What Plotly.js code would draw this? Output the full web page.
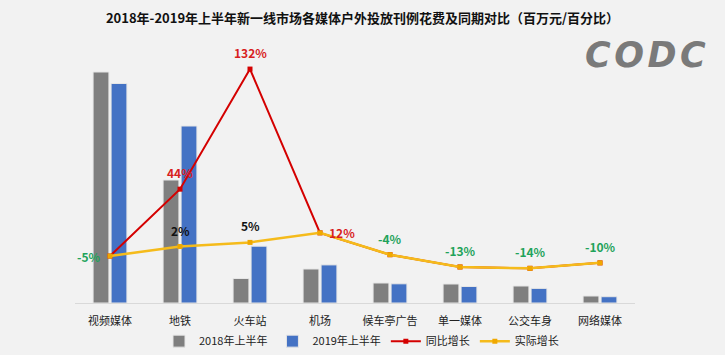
<!DOCTYPE html>
<html>
<head>
<meta charset="utf-8">
<script src="https://cdn.plot.ly/plotly-3.0.1.min.js"></script>
<style>
  html, body { margin: 0; padding: 0; background: #f2f2f2; }
  #chart { width: 725px; height: 355px; }
</style>
</head>
<body>
<div id="chart"></div>
<script>
// ---- data ----
var categories = ['视频媒体', '地铁', '火车站', '机场', '候车亭广告', '单一媒体', '公交车身', '网络媒体'];
var spend2018 = [2310, 1230, 245, 340, 200, 190, 170, 70];
var spend2019 = [2195, 1770, 568, 381, 192, 165, 146, 63];
var yoyGrowth = [-5, 44, 132, 12, -4, -13, -14, -10];
var actualGrowth = [-5, 2, 5, 12, -4, -13, -14, -10];
var seriesNames = ['2018年上半年', '2019年上半年', '同比增长', '实际增长'];
var chartTitle = '2018年-2019年上半年新一线市场各媒体户外投放刊例花费及同期对比（百万元/百分比）';
var logoText = 'C\u200AO\u200AD\u200AC';

// which growth value labels are shown, and how
var labelSource = ['yoy', 'yoy', 'yoy', 'yoy', 'actual', 'actual', 'actual', 'actual'];
var extraLabels = [null, 'actual', 'actual', null, null, null, null, null];

var FONT = '"Noto Sans CJK SC", "Noto Sans", sans-serif';
var GREEN = '#1fa35b', RED = '#d81e1e', BLACK = '#111111';
var GRAY = '#7f7f7f', BLUE = '#4472c4', REDLINE = '#d40000', YELLOW = '#f5bb1b';

var traces = [
  { type: 'bar', name: seriesNames[0], x: categories, y: spend2018,
    marker: { color: GRAY, line: { color: '#e6e6e6', width: 1 } } },
  { type: 'bar', name: seriesNames[1], x: categories, y: spend2019,
    marker: { color: BLUE, line: { color: '#e6e6e6', width: 1 } } },
  { type: 'scatter', mode: 'lines+markers', name: seriesNames[2], x: categories, y: yoyGrowth, yaxis: 'y2',
    line: { color: REDLINE, width: 2 }, marker: { color: REDLINE, symbol: 'square', size: 5 } },
  { type: 'scatter', mode: 'lines+markers', name: seriesNames[3], x: categories, y: actualGrowth, yaxis: 'y2',
    line: { color: YELLOW, width: 2.5 }, marker: { color: '#f0a800', symbol: 'square', size: 5 } }
];

function pct(v) { return v + '%'; }
function colorFor(v, kind) {
  if (v < 0) return GREEN;
  return kind === 'yoy' ? RED : BLACK;
}

var annotations = [];
categories.forEach(function (c, i) {
  var kind = labelSource[i];
  var v = kind === 'yoy' ? yoyGrowth[i] : actualGrowth[i];
  var a = { x: c, y: v, xref: 'x', yref: 'y2', text: '<b>' + pct(v) + '</b>', showarrow: false,
            font: { family: FONT, size: 12, color: colorFor(v, kind) } };
  if (i === 0) { a.xanchor = 'right'; a.xshift = -7; a.yanchor = 'middle'; }
  else if (i === 3) { a.xanchor = 'left'; a.xshift = 7; a.yanchor = 'middle'; }
  else { a.xanchor = 'center'; a.yanchor = 'bottom'; a.yshift = 6; }
  annotations.push(a);
  if (extraLabels[i]) {
    var w = actualGrowth[i];
    annotations.push({ x: c, y: w, xref: 'x', yref: 'y2', text: '<b>' + pct(w) + '</b>', showarrow: false,
      xanchor: 'center', yanchor: 'bottom', yshift: 6,
      font: { family: FONT, size: 12, color: colorFor(w, 'actual') } });
  }
});

// logo
annotations.push({ xref: 'paper', yref: 'paper', x: 1.13, y: 0.943, xanchor: 'right', yanchor: 'middle',
  text: '<b><i>' + logoText + '</i></b>', showarrow: false,
  font: { family: 'DejaVu Sans', size: 35, color: '#7a7a7a' } });

var layout = {
  width: 725, height: 355,
  paper_bgcolor: '#f2f2f2', plot_bgcolor: '#f2f2f2',
  margin: { l: 75, r: 90, t: 40, b: 52, autoexpand: false },
  title: { text: '<b>' + chartTitle + '</b>', x: 0.5, xref: 'container', xanchor: 'center',
           y: 1 - 18 / 355, yanchor: 'middle',
           font: { family: FONT, size: 13, color: '#111111' } },
  barmode: 'group', bargap: 0.486, bargroupgap: 0.12,
  xaxis: { showgrid: false, zeroline: false, showline: true, linecolor: '#d9d9d9', linewidth: 1,
           ticks: '', ticklabelstandoff: 8,
           tickfont: { family: FONT, size: 11, color: '#222222' } },
  yaxis: { range: [0, 2630], visible: false, showgrid: false, zeroline: false },
  yaxis2: { range: [-39.4, 153.3], overlaying: 'y', side: 'right', visible: false,
            showgrid: false, zeroline: false },
  showlegend: true,
  legend: { orientation: 'h', x: 0.15, xanchor: 'left', y: -0.145, yanchor: 'middle',
            font: { family: FONT, size: 11, color: '#222222' }, bgcolor: 'rgba(0,0,0,0)',
            traceorder: 'normal', itemwidth: 30 },
  annotations: annotations
};

Plotly.newPlot('chart', traces, layout, { displayModeBar: false, staticPlot: true });
</script>
</body>
</html>
